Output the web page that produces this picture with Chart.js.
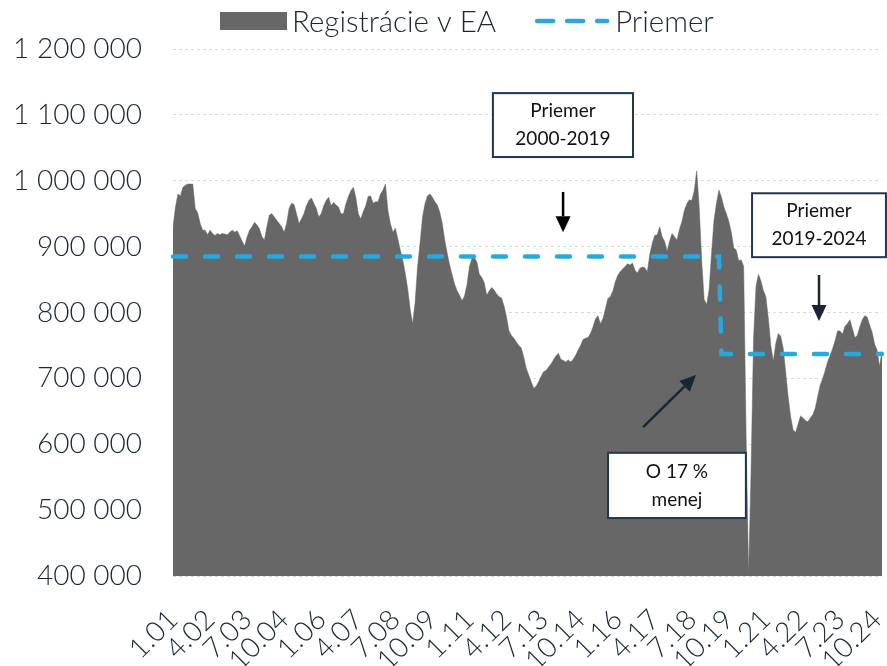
<!DOCTYPE html>
<html lang="sk">
<head>
<meta charset="utf-8">
<title>Registrácie v EA</title>
<script src="https://cdn.jsdelivr.net/npm/chart.js@4.4.1/dist/chart.umd.min.js"></script>
<style>
  html, body { margin: 0; padding: 0; background: #fff; overflow: hidden; }
  #wrap { width: 887px; height: 666px; }
</style>
</head>
<body>
<div id="wrap"><canvas id="registracieGraf" width="887" height="666"></canvas></div>
<script>
// mesiace 1.01 ... 12.24
const mesiace = [];
for (let r = 2001; r <= 2024; r++) {
  for (let m = 1; m <= 12; m++) mesiace.push(m + '.' + String(r).slice(2));
}

// popisy na osi x (kazdych 15 mesiacov)
const znackyOsi = ['1.01', '4.02', '7.03', '10.04', '1.06', '4.07', '7.08', '10.09', '1.11', '4.12',
  '7.13', '10.14', '1.16', '4.17', '7.18', '10.19', '1.21', '4.22', '7.23', '10.24'];

// registracie novych aut v EA (mesacne, klzavy udaj)
const registracie = [
  930000, 960000, 980000, 977000, 990000, 993000, 995000, 995000, 995000, 958000,
  951000, 935000, 925000, 925000, 918000, 925000, 920000, 917000, 920000, 918000,
  920000, 919000, 918000, 922000, 925000, 922000, 924000, 916000, 908000, 901000,
  915000, 925000, 930000, 937000, 933000, 927000, 915000, 910000, 930000, 948000,
  950000, 945000, 940000, 935000, 930000, 922000, 935000, 958000, 966000, 964000,
  950000, 935000, 942000, 950000, 962000, 970000, 974000, 966000, 958000, 945000,
  950000, 962000, 970000, 975000, 962000, 967000, 963000, 960000, 950000, 950000,
  965000, 976000, 985000, 990000, 975000, 950000, 942000, 953000, 962000, 976000,
  977000, 966000, 968000, 968000, 980000, 986000, 995000, 955000, 935000, 922000,
  928000, 912000, 895000, 880000, 860000, 836000, 805000, 783000, 815000, 870000,
  905000, 945000, 965000, 977000, 980000, 975000, 968000, 963000, 952000, 935000,
  910000, 890000, 872000, 857000, 843000, 833000, 826000, 818000, 825000, 842000,
  870000, 882000, 883000, 877000, 858000, 853000, 845000, 826000, 833000, 838000,
  834000, 828000, 824000, 822000, 810000, 793000, 772000, 765000, 761000, 755000,
  750000, 746000, 732000, 715000, 705000, 695000, 685000, 688000, 695000, 703000,
  710000, 712000, 717000, 722000, 728000, 734000, 738000, 729000, 727000, 725000,
  728000, 725000, 729000, 735000, 743000, 750000, 759000, 761000, 762000, 768000,
  778000, 790000, 795000, 783000, 790000, 805000, 821000, 824000, 832000, 846000,
  856000, 862000, 866000, 870000, 874000, 872000, 875000, 864000, 860000, 867000,
  869000, 868000, 862000, 888000, 905000, 917000, 918000, 930000, 915000, 908000,
  893000, 908000, 920000, 915000, 910000, 926000, 938000, 955000, 965000, 971000,
  970000, 985000, 1015000, 960000, 880000, 820000, 812000, 834000, 890000, 940000,
  966000, 986000, 975000, 960000, 950000, 938000, 922000, 898000, 895000, 878000,
  880000, 870000, 610000, 402000, 560000, 760000, 840000, 858000, 848000, 833000,
  824000, 790000, 750000, 726000, 753000, 768000, 764000, 746000, 710000, 672000,
  642000, 622000, 618000, 630000, 643000, 640000, 636000, 634000, 640000, 645000,
  655000, 673000, 690000, 700000, 712000, 725000, 735000, 745000, 757000, 772000,
  772000, 767000, 779000, 783000, 789000, 776000, 762000, 765000, 778000, 789000,
  795000, 793000, 781000, 770000, 752000, 743000, 718000, 742000
];

// priemery za obdobia
const priemer2000_2019 = 885000;
const priemer2019_2024 = 737000;
const zlomPriemeru = '7.19';
const priemer = mesiace.map((m, i) => i < mesiace.indexOf(zlomPriemeru) ? priemer2000_2019 : priemer2019_2024);

const sivaPlocha = '#676767';
const modraCiara = '#29a8e0';
const farbaTextu = '#1c2736';
const farbaRamu = '#22374f';
const pismo = 'Lato, "Open Sans", sans-serif';

// popisky: [index mesiaca, hodnota]
const ramceky = [
  { od: [129.5, 1133000], po: [186.2, 1036000], riadky: ['Priemer', '2000-2019'] },
  { od: [234.4, 981000], po: [288.6, 884000], riadky: ['Priemer', '2019-2024'] },
  { od: [176.1, 587000], po: [231.9, 488000], riadky: ['O 17 %', 'menej'] }
];
const sipky = [
  { z: [157.9, 983000], do: [157.9, 922000], farba: '#000000' },
  { z: [261.5, 857000], do: [261.5, 787000], farba: '#1a2535' },
  { z: [190.3, 626000], do: [211.7, 705000], farba: '#1a2535' }
];

const formatCisla = v => String(v).replace(/\B(?=(\d{3})+(?!\d))/g, ' ');

const popisky = {
  id: 'popisky',
  afterDraw(chart) {
    const { ctx, scales: { x, y } } = chart;
    const px = i => x.getPixelForValue(i);
    const py = v => y.getPixelForValue(v);
    ctx.save();

    // legenda
    ctx.font = '300 29.5px ' + pismo;
    ctx.textBaseline = 'middle';
    ctx.fillStyle = sivaPlocha;
    let lx = 220;
    ctx.fillRect(lx, 12, 67, 18);
    lx += 72;
    ctx.fillStyle = farbaTextu;
    ctx.fillText('Registrácie v EA', lx, 22);
    lx += ctx.measureText('Registrácie v EA').width + 41;
    ctx.strokeStyle = modraCiara;
    ctx.lineWidth = 4.5;
    ctx.lineCap = 'round';
    ctx.setLineDash([16, 14]);
    ctx.beginPath();
    ctx.moveTo(lx, 21);
    ctx.lineTo(lx + 70, 21);
    ctx.stroke();
    ctx.setLineDash([]);
    ctx.fillText('Priemer', lx + 78, 22);

    // ramceky s textom
    ctx.font = '19px ' + pismo;
    ctx.textAlign = 'center';
    ramceky.forEach(r => {
      const x0 = px(r.od[0]), y0 = py(r.od[1]), x1 = px(r.po[0]), y1 = py(r.po[1]);
      ctx.fillStyle = '#ffffff';
      ctx.fillRect(x0, y0, x1 - x0, y1 - y0);
      ctx.strokeStyle = farbaRamu;
      ctx.lineWidth = 2;
      ctx.strokeRect(x0, y0, x1 - x0, y1 - y0);
      ctx.fillStyle = '#111111';
      const cx = (x0 + x1) / 2, cy = (y0 + y1) / 2;
      ctx.fillText(r.riadky[0], cx, cy - 14);
      ctx.fillText(r.riadky[1], cx, cy + 14);
    });

    // sipky
    sipky.forEach(s => {
      const x0 = px(s.z[0]), y0 = py(s.z[1]), x1 = px(s.do[0]), y1 = py(s.do[1]);
      const uhol = Math.atan2(y1 - y0, x1 - x0);
      const dlzka = 16, sirka = 7.5;
      const bx = x1 - Math.cos(uhol) * dlzka, by = y1 - Math.sin(uhol) * dlzka;
      ctx.strokeStyle = s.farba;
      ctx.fillStyle = s.farba;
      ctx.lineWidth = 2.5;
      ctx.lineCap = 'butt';
      ctx.beginPath();
      ctx.moveTo(x0, y0);
      ctx.lineTo(bx, by);
      ctx.stroke();
      ctx.beginPath();
      ctx.moveTo(x1, y1);
      ctx.lineTo(bx + Math.sin(uhol) * sirka, by - Math.cos(uhol) * sirka);
      ctx.lineTo(bx - Math.sin(uhol) * sirka, by + Math.cos(uhol) * sirka);
      ctx.closePath();
      ctx.fill();
    });
    ctx.restore();
  }
};

Chart.defaults.font.family = pismo;

new Chart(document.getElementById('registracieGraf'), {
  type: 'line',
  data: {
    labels: mesiace,
    datasets: [
      {
        label: 'Registrácie v EA',
        data: registracie,
        fill: 'start',
        backgroundColor: sivaPlocha,
        borderColor: sivaPlocha,
        borderWidth: 0.5,
        pointRadius: 0,
        tension: 0,
        order: 2
      },
      {
        label: 'Priemer',
        data: priemer,
        fill: false,
        borderColor: modraCiara,
        borderWidth: 4.5,
        borderDash: [13, 19],
        borderCapStyle: 'round',
        pointRadius: 0,
        tension: 0,
        order: 1
      }
    ]
  },
  options: {
    responsive: false,
    animation: false,
    layout: { padding: { top: 49, right: 5, left: 0, bottom: 0 } },
    plugins: {
      legend: { display: false },
      tooltip: { enabled: false }
    },
    scales: {
      x: {
        grid: { display: false, drawTicks: false },
        border: { display: false },
        ticks: {
          autoSkip: false,
          maxRotation: 45,
          minRotation: 45,
          padding: 27,
          color: farbaTextu,
          font: { size: 28, weight: '300' },
          callback: (v, i) => znackyOsi.includes(mesiace[i]) ? mesiace[i] : ''
        },
        afterFit: s => { s.height = 90; s.paddingLeft = 0; s.paddingRight = 0; }
      },
      y: {
        min: 400000,
        max: 1200000,
        grid: { color: '#d9d9d9', drawTicks: false },
        border: { display: false, dash: [3, 3] },
        ticks: {
          stepSize: 100000,
          padding: 31,
          color: farbaTextu,
          font: { size: 28, weight: '300' },
          callback: v => formatCisla(v)
        },
        afterFit: s => { s.width = 173; s.paddingTop = 0; s.paddingBottom = 0; }
      }
    }
  },
  plugins: [popisky]
});
</script>
</body>
</html>
